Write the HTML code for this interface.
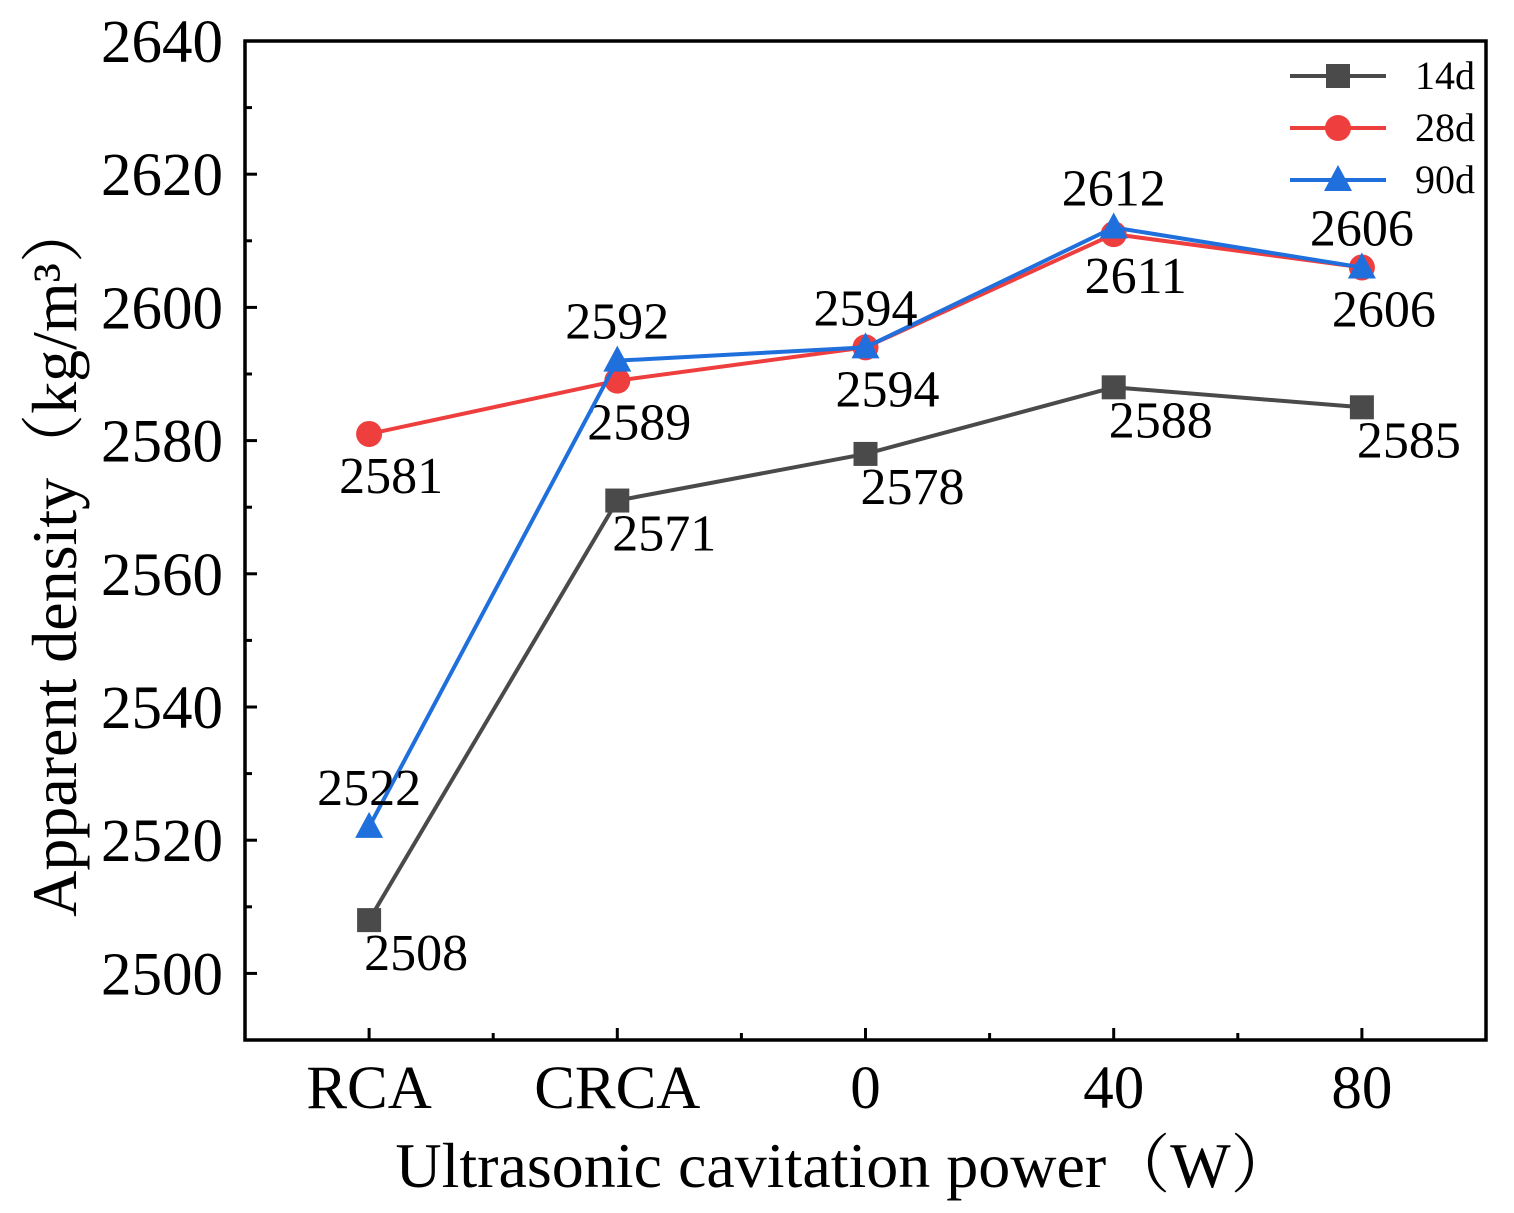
<!DOCTYPE html>
<html><head><meta charset="utf-8">
<style>
html,body{margin:0;padding:0;background:#fff;}
svg{display:block;font-family:"Liberation Serif","Noto Serif CJK SC",serif;}
</style></head>
<body>
<svg id="chart" width="1514" height="1213" viewBox="0 0 1514 1213" xmlns="http://www.w3.org/2000/svg">
<g id="plot"></g>
</svg>
<script>
const categories = ["RCA","CRCA","0","40","80"];
const series14 = [2508,2571,2578,2588,2585];
const series28 = [2581,2589,2594,2611,2606];
const series90 = [2522,2592,2594,2612,2606];
const yTicks = [2500,2520,2540,2560,2580,2600,2620,2640];
const seriesNames = ["14d","28d","90d"];

const L=245,R=1486,T=41,B=1040,yMin=2490,yMax=2640;
const ns="http://www.w3.org/2000/svg";
const g=document.getElementById('plot');
function xS(i){return L+(i+0.5)*(R-L)/categories.length;}
function yS(v){return B-(v-yMin)/(yMax-yMin)*(B-T);}
function el(tag,attrs,parent){const e=document.createElementNS(ns,tag);for(const k in attrs)e.setAttribute(k,attrs[k]);(parent||g).appendChild(e);return e;}

const frame=el('rect',{x:L,y:T,width:R-L,height:B-T,fill:'none',stroke:'#000','stroke-width':3.5});



yTicks.forEach((v,i)=>{
  const y=yS(v);
  const t=el('line',{x1:L,x2:L+12,y1:y,y2:y,stroke:'#000','stroke-width':3});
  
  
  const m=el('line',{x1:L,x2:L+7,y1:yS(v+10),y2:yS(v+10),stroke:'#000','stroke-width':3});
  
  
  const lb=el('text',{x:L-22,y:y+21,'text-anchor':'end','font-size':61});
  lb.textContent=v;
  
  
});
categories.forEach((c,i)=>{
  const x=xS(i);
  const t=el('line',{x1:x,x2:x,y1:B,y2:B-12,stroke:'#000','stroke-width':3});
  
  
  if(i<categories.length-1){
    const mx=(xS(i)+xS(i+1))/2;
    const m=el('line',{x1:mx,x2:mx,y1:B,y2:B-7,stroke:'#000','stroke-width':3});
    
    
  }
  const lb=el('text',{x:x,y:1108,'text-anchor':'middle','font-size':61});
  lb.textContent=c;
  
  
});

const xt=el('text',{x:845,y:1187,'text-anchor':'middle','font-size':64});
xt.textContent='Ultrasonic cavitation power（W）';


const yt=el('text',{x:0,y:0,'text-anchor':'middle','font-size':64,transform:'translate(76,558) rotate(-90)'});
yt.textContent='Apparent density（kg/m³）';



const defs=[
 {data:series14,color:'#4a4a4a',marker:'square',dx:47,dy:50},
 {data:series28,color:'#ee3e3e',marker:'circle',dx:22,dy:59},
 {data:series90,color:'#1f6fdc',marker:'triangle',dx:0,dy:-22}
];
function marker(type,x,y,color,parent){
  let m;
  if(type==='square') m=el('rect',{x:x-12,y:y-12,width:24,height:24,fill:color},parent);
  else if(type==='circle') m=el('circle',{cx:x,cy:y,r:13,fill:color},parent);
  else m=el('polygon',{points:`${x},${y-15} ${x-14},${y+11} ${x+14},${y+11}`,fill:color},parent);
  return m;
}
defs.forEach((s,si)=>{
  const grp=el('g',{});
  
  
  const pts=s.data.map((v,i)=>xS(i)+','+yS(v)).join(' ');
  const line=el('polyline',{points:pts,fill:'none',stroke:s.color,'stroke-width':4},grp);
  
  
  s.data.forEach((v,i)=>{
    const m=marker(s.marker,xS(i),yS(v),s.color,grp);
    
    
    const lb=el('text',{x:xS(i)+s.dx,y:yS(v)+s.dy,'text-anchor':'middle','font-size':52},grp);
    lb.textContent=v;
    
    
  });
});

const lg=el('g',{});


defs.forEach((s,si)=>{
  const y=76+si*52;
  const ln=el('line',{x1:1290,x2:1386,y1:y,y2:y,stroke:s.color,'stroke-width':4},lg);
  
  
  const m=marker(s.marker,1338,y,s.color,lg);
  
  
  const t=el('text',{x:1475,y:y+13,'text-anchor':'end','font-size':40},lg);
  t.textContent=seriesNames[si];
  
  
});
</script>
</body></html>
